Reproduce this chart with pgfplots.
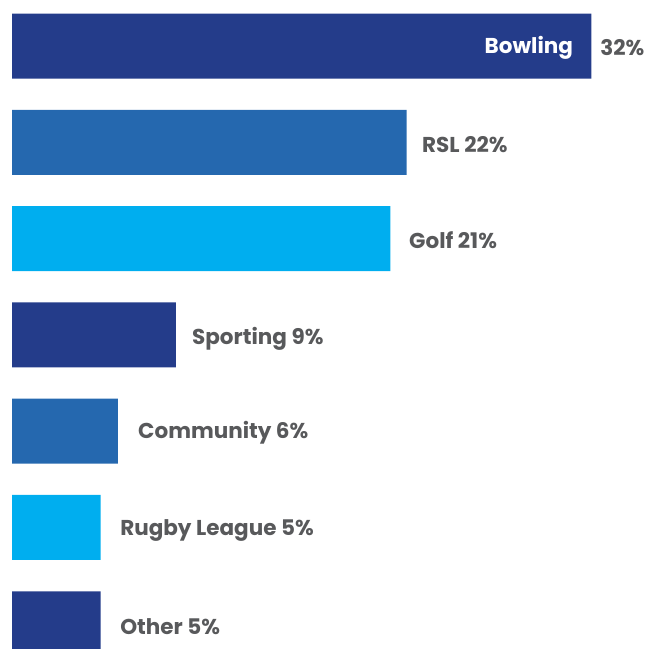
\documentclass[border=0pt]{standalone}
\usepackage{pgfplots}
\pgfplotsset{compat=1.18}
\usepackage{pgfplotstable}
\usepackage{fontspec}
\setmainfont{Poppins}
\definecolor{navy}{HTML}{243C8A}
\definecolor{midblue}{HTML}{2568AF}
\definecolor{cyanb}{HTML}{00AEEF}
\definecolor{lab}{HTML}{58595B}
\pgfplotstableread{
y v
0 32
3 9.05
6 4.9
}\navytab
\pgfplotstableread{
y v
1 21.8
4 5.85
}\midtab
\pgfplotstableread{
y v
2 20.9
5 4.9
}\cyantab
\pgfplotstableread[col sep=comma]{
x,y,t
22.65,1.02,RSL 22\%
21.93,2.02,Golf 21\%
9.94,3.04,Sporting 9\%
6.96,4.02,Community 6\%
5.97,5.03,Rugby League 5\%
5.97,6.03,Other 5\%
32.49,0.02,32\%
}\labtab
\begin{document}
\begin{tikzpicture}
\begin{axis}[
  scale only axis, width=655pt, height=649pt,
  xmin=-0.663, xmax=35.52,
  ymin=-0.478, ymax=6.262, y dir=reverse,
  axis lines=none, clip=true,
  xbar, bar width=65pt, bar shift=0pt,
]
\addplot[fill=navy, draw=none] table[x=v,y=y]{\navytab};
\addplot[fill=midblue, draw=none] table[x=v,y=y]{\midtab};
\addplot[fill=cyanb, draw=none] table[x=v,y=y]{\cyantab};
\addplot[draw=none, mark=none, xbar=0pt, nodes near coords, point meta=explicit symbolic,
  every node near coord/.append style={anchor=west, xshift=0pt, font=\fontsize{21.5}{24}\selectfont\bfseries, text=lab, inner sep=0pt}]
  table[x=x,y=y,meta=t,col sep=comma]{\labtab};
\addplot[draw=none, mark=none, xbar=0pt, nodes near coords, point meta=explicit symbolic,
  every node near coord/.append style={anchor=east, xshift=0pt, font=\fontsize{21.5}{24}\selectfont\bfseries, text=white, inner sep=0pt}]
  table[x=x,y=y,meta=t,col sep=comma]{
x,y,t
31.0,0.02,Bowling
};
\end{axis}
\pgfresetboundingbox
\useasboundingbox (current axis.south west) rectangle (current axis.north east);
\end{tikzpicture}
\end{document}
